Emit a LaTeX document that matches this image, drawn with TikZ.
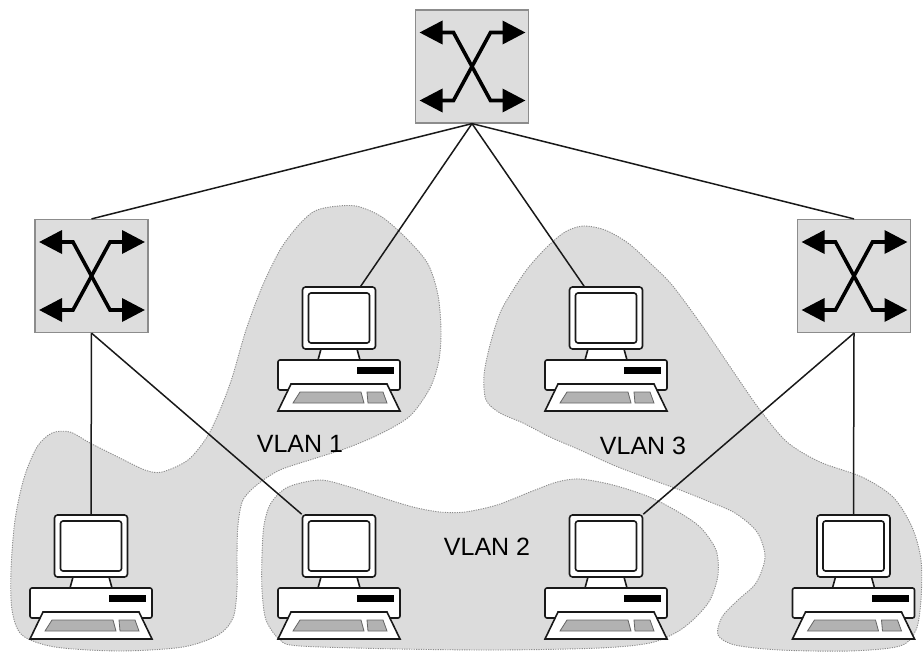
\documentclass[tikz,border=0pt]{standalone}
\usepackage{fontspec}
\setmainfont{Liberation Sans}
\usetikzlibrary{arrows.meta}

\definecolor{vlangray}{RGB}{220,220,220}
\definecolor{boxgray}{RGB}{221,221,221}
\definecolor{keygray}{RGB}{178,178,178}

\tikzset{
  part/.style={draw=black!90,fill=white,line width=1.6pt},
  key/.style={draw=black!60,fill=keygray,line width=0.8pt},
  monitor/.style={rectangle,part,rounded corners=3pt,inner sep=0pt,
    minimum width=73pt,minimum height=62pt},
  pc/.pic={
    % system unit with drive slot
    \draw[part,rounded corners=2pt] (-61,73) rectangle (61,103);
    \fill[black] (18,80) rectangle (55,87);
    % stand
    \draw[part] (-18,62) -- (-21,73) -- (21,73) -- (18,62) -- cycle;
    % monitor
    \node[monitor] (-mon) at (0,31) {};
    \draw[part,rounded corners=2.5pt] (-30.5,6) rectangle (30.5,56);
    % keyboard
    \draw[part] (-48,97) -- (48,97) -- (61,124) -- (-61,124) -- cycle;
    \draw[key] (-39,105) -- (22,105) -- (25,116) -- (-46,116) -- cycle;
    \draw[key] (28,105) -- (44,105) -- (48,116) -- (29,116) -- cycle;
  }
}

\begin{document}
\begin{tikzpicture}
  [x=1pt,y=-1pt,
   vlan/.style={fill=vlangray,draw=black!45,line width=0.9pt,dash pattern=on 1.2pt off 1.2pt},
   vlanlabel/.style={text=black,font=\fontsize{25pt}{30pt}\selectfont,inner sep=0pt},
   switchbox/.style={rectangle,fill=boxgray,draw=black!45,line width=1.2pt,minimum size=113pt},
   cross/.style={line width=3.6pt,{Triangle[length=23pt,width=23pt]}-{Triangle[length=23pt,width=23pt]}},
   link/.style={draw=black!90,line width=1.5pt}]
  \useasboundingbox (0,0) rectangle (924,653);

  % VLAN areas
  \draw[vlan] plot[smooth cycle] coordinates {
    (330,207) (356,206) (382,217) (408,240) (428,264) (438,295) (441,330)
    (439,360) (430,388) (410,416) (380,434) (347,448) (313,459) (280,470)
    (258,484) (243,500) (238,525) (237,555) (237,590) (233,618) (218,635)
    (183,647) (120,651) (55,647) (22,635) (12,610) (11,570) (15,520)
    (24,478) (37,447) (52,433) (70,432) (90,443) (118,457) (145,470)
    (162,472) (188,460) (207,437) (220,410) (232,378) (246,330) (262,287)
    (280,250) (297,227) (313,212)};
  \draw[vlan] plot[smooth cycle] coordinates {
    (320,480) (350,487) (380,497) (413,507) (440,512) (465,512) (497,505)
    (530,492) (557,482) (580,479) (613,485) (647,496) (675,510) (700,527)
    (716,550) (718,575) (710,600) (695,618) (677,632) (650,643) (600,648)
    (500,650) (400,649) (300,646) (280,640) (266,620) (262,590) (262,555)
    (264,525) (271,503) (288,487)};
  \draw[vlan] plot[smooth cycle] coordinates {
    (583,226) (605,230) (628,243) (650,263) (672,285) (703,327) (737,377)
    (760,410) (787,442) (820,462) (862,477) (893,497) (912,527) (921,560)
    (921,600) (916,630) (900,646) (850,651) (780,650) (735,645) (718,635)
    (722,617) (738,600) (756,583) (765,557) (757,532) (735,513) (705,500)
    (680,490) (647,478) (613,465) (580,450) (550,437) (523,423) (500,413)
    (486,400) (484,375) (490,345) (500,313) (513,290) (528,268) (547,247)
    (565,232)};

  \node[vlanlabel] (v1) at (300,444) {VLAN 1};
  \node[vlanlabel] (v2) at (487,547) {VLAN 2};
  \node[vlanlabel] (v3) at (643,446) {VLAN 3};

  % switches
  \node[switchbox] (sw0) at (472,66.5) {};
  \node[switchbox] (sw1) at (91.5,276) {};
  \node[switchbox] (sw2) at (854,276) {};
  \foreach \s in {sw0,sw1,sw2} {
    \begin{scope}[shift={(\s)}]
      \draw[cross] (-52.5,-34) -- (-18.5,-34) -- (18.5,34) -- (53.5,34);
      \draw[cross] (-52.5,34) -- (-18.5,34) -- (18.5,-34) -- (53.5,-34);
    \end{scope}
  }

  % hosts
  \pic (pc1) at (91,515)    {pc};
  \pic (pc2) at (339,287)   {pc};
  \pic (pc3) at (339,515)   {pc};
  \pic (pc4) at (606,287)   {pc};
  \pic (pc5) at (606,515)   {pc};
  \pic (pc6) at (853.5,515) {pc};

  \foreach \from/\to in {sw0.south/sw1.north,sw0.south/pc2-mon,sw0.south/pc4-mon,
                         sw0.south/sw2.north,sw1.south/pc1-mon.north,
                         sw1.south/pc3-mon.north west,sw2.south/pc5-mon.north east,
                         sw2.south/pc6-mon.north}
    \draw[link] (\from) -- (\to);

\end{tikzpicture}
\end{document}
